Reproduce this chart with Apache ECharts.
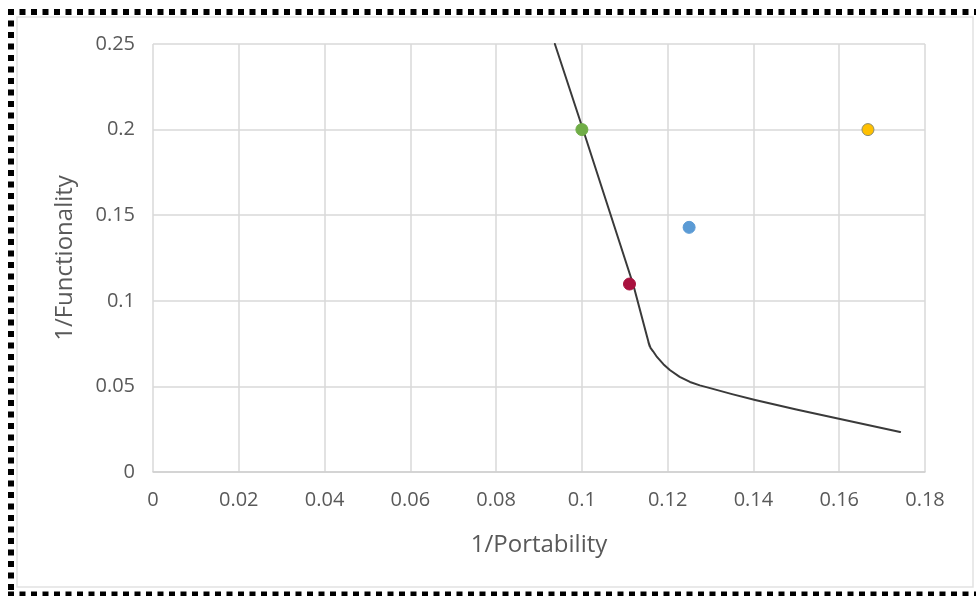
<!DOCTYPE html>
<html>
<head>
<meta charset="utf-8">
<script src="https://cdn.jsdelivr.net/npm/echarts@6/dist/echarts.min.js"></script>
<style>
html,body{margin:0;padding:0;background:#fff;}
#chart{width:976px;height:596px;}
</style>
</head>
<body>
<div id="chart"></div>
<script>
// ---- data ----
var xTicks = [0, 0.02, 0.04, 0.06, 0.08, 0.1, 0.12, 0.14, 0.16, 0.18];
var yTicks = [0, 0.05, 0.1, 0.15, 0.2, 0.25];
var xTitle = '1/Portability';
var yTitle = '1/Functionality';

var curveX = [0.0937, 0.1003, 0.1120, 0.1152, 0.1158, 0.1155, 0.1160, 0.1166, 0.1175, 0.1190, 0.1205, 0.1228, 0.1252, 0.1275, 0.1299, 0.1350, 0.1404, 0.1500, 0.1602, 0.1742];
var curveY = [0.2500, 0.1998, 0.1092, 0.0790, 0.0735, 0.0760, 0.0725, 0.0705, 0.0672, 0.0630, 0.0596, 0.0556, 0.0526, 0.0506, 0.0490, 0.0455, 0.0421, 0.0365, 0.0310, 0.0234];

var pointX = [0.1, 0.1111, 0.125, 0.1667];
var pointY = [0.2, 0.1098, 0.1429, 0.2];

// ---- styles ----
var pointColors = ['#70AD47', '#A9123F', '#5B9BD5', '#FFC000'];
var pointBorders = ['#70AD47', '#A9123F', '#5B9BD5', '#8C8C6E'];
var FONT = 'Open Sans';

var chart = echarts.init(document.getElementById('chart'), null, {renderer: 'canvas'});

var series = [{
  type: 'line',
  data: curveX.map(function (x, i) { return [x, curveY[i]]; }),
  showSymbol: false,
  smooth: false,
  lineStyle: {color: '#3a3a3a', width: 2, join: 'round', cap: 'round'},
  z: 3,
  silent: true
}];
pointX.forEach(function (x, i) {
  series.push({
    type: 'scatter',
    data: [[x, pointY[i]]],
    symbolSize: 12,
    itemStyle: {color: pointColors[i], borderColor: pointBorders[i], borderWidth: 1, opacity: 1},
    z: 4
  });
});

var dash = [6, 5.5];
chart.setOption({
  animation: false,
  backgroundColor: '#ffffff',
  grid: {left: 153, right: 51, top: 44, bottom: 124, containLabel: false},
  xAxis: {
    type: 'value', min: xTicks[0], max: xTicks[xTicks.length - 1], interval: 0.02,
    name: xTitle, nameLocation: 'middle', nameGap: 61,
    nameTextStyle: {color: '#595959', fontFamily: FONT, fontSize: 24},
    axisLine: {show: true, lineStyle: {color: '#d0d0d0', width: 1.5}},
    axisTick: {show: false},
    axisLabel: {color: '#595959', fontFamily: FONT, fontSize: 20, margin: 18,
      formatter: function (v) { return String(parseFloat(v.toFixed(4))); }},
    splitLine: {show: true, lineStyle: {color: '#d9d9d9', width: 1.5}}
  },
  yAxis: {
    type: 'value', min: yTicks[0], max: yTicks[yTicks.length - 1], interval: 0.05,
    name: yTitle, nameLocation: 'middle', nameGap: 76,
    nameTextStyle: {color: '#595959', fontFamily: FONT, fontSize: 24},
    axisLine: {show: false},
    axisTick: {show: false},
    axisLabel: {color: '#595959', fontFamily: FONT, fontSize: 20, margin: 18,
      formatter: function (v) { return String(parseFloat(v.toFixed(4))); }},
    splitLine: {show: true, lineStyle: {color: '#d9d9d9', width: 1.5}}
  },
  graphic: [
    {type: 'rect', shape: {x: 17, y: 17, width: 956, height: 570}, style: {fill: null, stroke: '#e2e2e2', lineWidth: 1.5}, silent: true},
    {type: 'line', shape: {x1: 8, y1: 12, x2: 976, y2: 12}, style: {stroke: '#000', lineWidth: 6, lineDash: dash}, silent: true},
    {type: 'line', shape: {x1: 11, y1: 9, x2: 11, y2: 596}, style: {stroke: '#000', lineWidth: 6, lineDash: dash}, silent: true},
    {type: 'line', shape: {x1: 8, y1: 594, x2: 976, y2: 594}, style: {stroke: '#000', lineWidth: 5, lineDash: dash}, silent: true}
  ],
  series: series
});
</script>
</body>
</html>
